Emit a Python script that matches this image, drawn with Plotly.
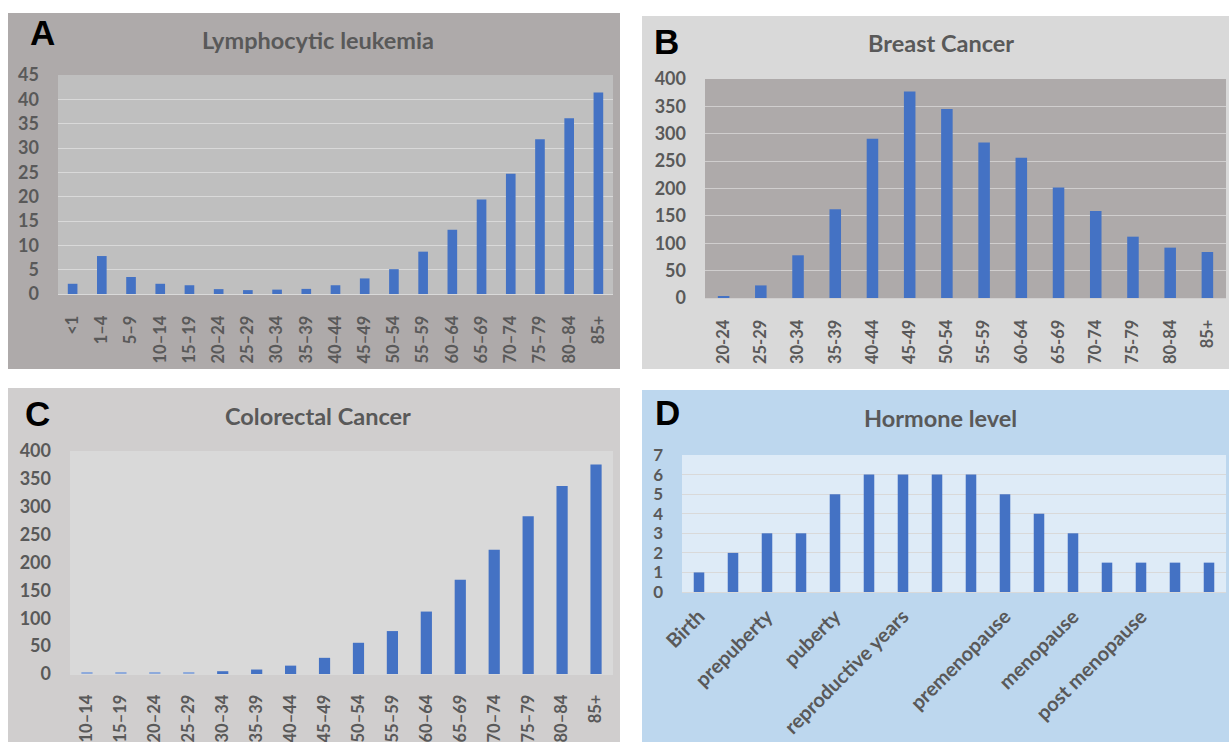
import plotly.graph_objects as go

W, H = 1229, 742

# ---------------- data ----------------
a_labels = ["<1", "1–4", "5–9", "10–14", "15–19", "20–24", "25–29", "30–34", "35–39",
            "40–44", "45–49", "50–54", "55–59", "60–64", "65–69", "70–74", "75–79", "80–84", "85+"]
a_values = [2.1, 7.8, 3.5, 2.1, 1.8, 1.0, 0.8, 0.9, 1.05, 1.8, 3.2, 5.1, 8.7, 13.2, 19.4, 24.7, 31.8, 36.1, 41.4]

b_labels = ["20-24", "25-29", "30-34", "35-39", "40-44", "45-49", "50-54", "55-59", "60-64",
            "65-69", "70-74", "75-79", "80-84", "85+"]
b_values = [3, 23, 78, 162, 291, 377, 345, 284, 256, 202, 159, 112, 92, 84]

c_labels = ["10–14", "15–19", "20–24", "25–29", "30–34", "35–39", "40–44", "45–49", "50–54",
            "55–59", "60–64", "65–69", "70–74", "75–79", "80–84", "85+"]
c_values = [2, 2, 2, 2, 5, 8, 15, 29, 56, 77, 112, 169, 223, 283, 337, 376]

d_positions = list(range(16))
d_values = [1, 2, 3, 3, 5, 6, 6, 6, 6, 5, 4, 3, 1.5, 1.5, 1.5, 1.5]
d_ticktext = ["Birth", "", "prepuberty", "", "puberty", "", "reproductive years", "", "",
              "premenopause", "", "menopause", "", "post menopause", "", ""]

# ---------------- styling ----------------
BLUE = "#4472c4"
LIGHT_BLUE = "#8eaadb"
TXT = "#595959"
FONT = "Lato"


def px_x(x):
    return x / W


def px_y(y):
    return 1 - y / H


panels = {
    "A": dict(box=(8, 13, 620, 369), plot=(58, 75, 613, 294), bg="#aeaaaa", pbg="#bfbfbf", grid="#d9d9d9",
              title="Lymphocytic leukemia", tx=318, ty=40, lx=42, ly=33, xfs=16.5, xso=14),
    "B": dict(box=(642, 16, 1229, 369), plot=(705, 79, 1226, 298), bg="#d9d9d9", pbg="#aeaaaa", grid="#d0cece",
              title="Breast Cancer", tx=941, ty=43, lx=666, ly=42, xfs=16.5, xso=14),
    "C": dict(box=(8, 388, 620, 742), plot=(70, 451, 613, 674), bg="#d0cece", pbg="#d9d9d9", grid=None,
              title="Colorectal Cancer", tx=318, ty=416, lx=37, ly=413, xfs=16.5, xso=13),
    "D": dict(box=(642, 390, 1229, 742), plot=(682, 455, 1226, 592), bg="#bdd7ee", pbg="#deebf7", grid="#d9d9d9",
              title="Hormone level", tx=940, ty=418, lx=667, ly=412, xfs=20, xso=4),
}

fig = go.Figure()

c_colors = [LIGHT_BLUE if v <= 2 else BLUE for v in c_values]

fig.add_trace(go.Bar(x=a_labels, y=a_values, marker=dict(color=BLUE, line=dict(width=0)),
                     xaxis="x", yaxis="y", width=0.33))
fig.add_trace(go.Bar(x=b_labels, y=b_values, marker=dict(color=BLUE, line=dict(width=0)),
                     xaxis="x2", yaxis="y2", width=0.31))
fig.add_trace(go.Bar(x=c_labels, y=c_values, marker=dict(color=c_colors, line=dict(width=0)),
                     xaxis="x3", yaxis="y3", width=0.33))
fig.add_trace(go.Bar(x=d_positions, y=d_values, marker=dict(color=BLUE, line=dict(width=0)),
                     xaxis="x4", yaxis="y4", width=0.31))

shapes = []
annotations = []
keys = ["A", "B", "C", "D"]
yranges = [[0, 45], [0, 400], [0, 400], [0, 7]]
dticks = [5, 50, 50, 1]

for i, k in enumerate(keys):
    p = panels[k]
    bx0, by0, bx1, by1 = p["box"]
    shapes.append(dict(type="rect", xref="paper", yref="paper", layer="below",
                       x0=px_x(bx0), x1=px_x(bx1), y0=px_y(by1), y1=px_y(by0),
                       fillcolor=p["bg"], line=dict(width=0)))
    px0, py0, px1, py1 = p["plot"]
    shapes.append(dict(type="rect", xref="paper", yref="paper", layer="below",
                       x0=px_x(px0), x1=px_x(px1), y0=px_y(py1), y1=px_y(py0),
                       fillcolor=p["pbg"], line=dict(width=0)))
    annotations.append(dict(text=p["title"], xref="paper", yref="paper", x=px_x(p["tx"]), y=px_y(p["ty"]),
                            xanchor="center", yanchor="middle", showarrow=False,
                            font=dict(family=FONT, size=23.5, color=TXT, weight="bold")))
    annotations.append(dict(text=k, xref="paper", yref="paper", x=px_x(p["lx"]), y=px_y(p["ly"]),
                            xanchor="center", yanchor="middle", showarrow=False,
                            font=dict(family="Liberation Sans", size=35, color="#000000", weight="bold")))

    suffix = "" if i == 0 else str(i + 1)
    xa = dict(domain=[px_x(px0), px_x(px1)], anchor="y" + suffix, automargin=False,
              showgrid=False, zeroline=False, showline=True, linecolor=p["grid"] or p["pbg"], linewidth=1,
              ticks="", fixedrange=True, ticklabelstandoff=p["xso"],
              tickfont=dict(family=FONT, size=p["xfs"], color=TXT, weight="bold"))
    if k == "D":
        xa.update(tickmode="array", tickvals=d_positions, ticktext=d_ticktext, tickangle=-45,
                  range=[-0.5, 15.5])
    else:
        xa.update(type="category", tickangle=-90)
    ysize = 17 if k == "D" else 18
    ya = dict(domain=[px_y(py1), px_y(py0)], anchor="x" + suffix, range=yranges[i], dtick=dticks[i],
              tick0=0, showgrid=p["grid"] is not None, gridcolor=p["grid"] or "rgba(0,0,0,0)", gridwidth=1,
              zeroline=False, showline=False, ticks="", automargin=False,
              tickfont=dict(family=FONT, size=ysize, color=TXT, weight="bold"), ticklabelstandoff=18,
              fixedrange=True)
    fig.layout["xaxis" + suffix] = xa
    fig.layout["yaxis" + suffix] = ya

fig.update_layout(
    width=W, height=H, margin=dict(l=0, r=0, t=0, b=0, autoexpand=False),
    paper_bgcolor="white", plot_bgcolor="rgba(0,0,0,0)",
    showlegend=False, shapes=shapes, annotations=annotations,
    font=dict(family=FONT, color=TXT),
)

fig.write_html("out.html", config={"displayModeBar": False},
               post_script="document.body.style.margin='0';document.body.style.overflow='hidden';")
